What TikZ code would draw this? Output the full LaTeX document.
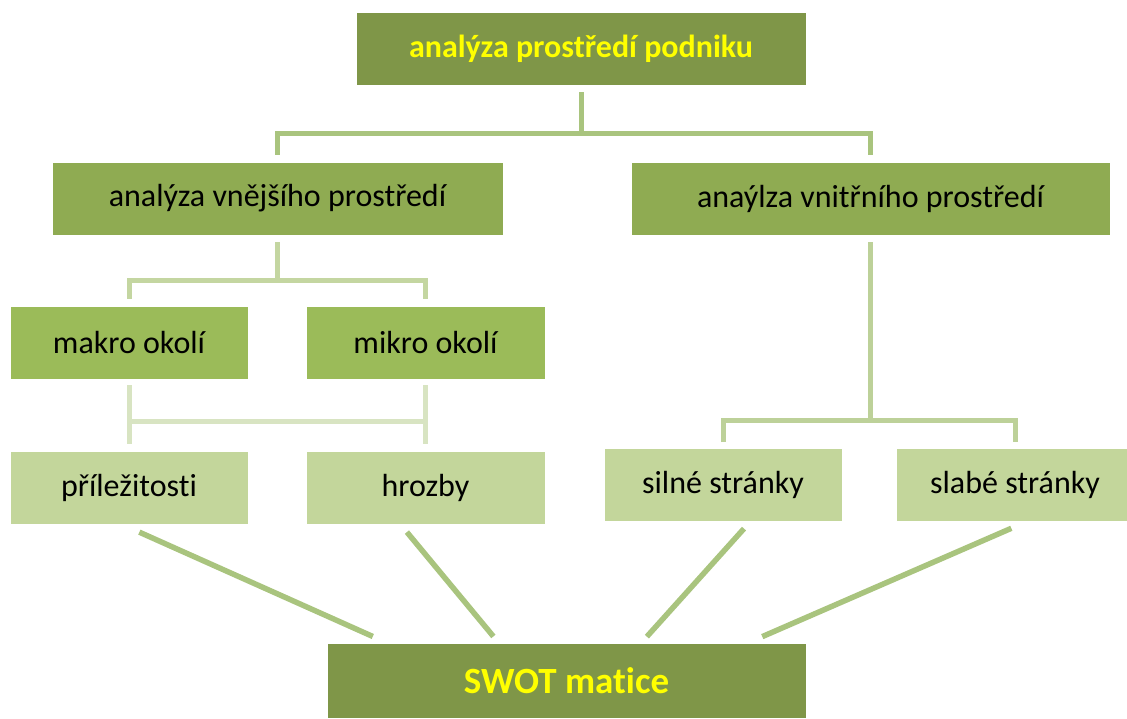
\documentclass[tikz,border=0pt]{standalone}
\usepackage{fontspec}
\setmainfont{Carlito}[Ligatures=NoCommon]
\usetikzlibrary{positioning}

\definecolor{olivetop}{HTML}{7F9648}
\definecolor{olivetwo}{HTML}{8FAB52}
\definecolor{olivethree}{HTML}{9BBB59}
\definecolor{olivefour}{HTML}{C3D69B}
\definecolor{linkA}{HTML}{A9C47E}
\definecolor{linkB}{HTML}{C4D6A1}
\definecolor{linkC}{HTML}{D8E4C2}
\definecolor{linkD}{HTML}{BDD199}
\definecolor{headtext}{HTML}{FFFF00}

\begin{document}
\begin{tikzpicture}[x=1pt,y=-1pt]

\tikzset{
  % plain boxes of the chart
  box/.style={rectangle, inner sep=0pt, minimum height=73pt, draw=white,
    line width=0.8pt, text=black, font=\fontsize{32}{36}\selectfont},
  headbox/.style={box, fill=olivetop, text=headtext,
    font=\fontsize{32}{36}\selectfont\bfseries},
  % straight and elbow connectors
  link/.style={line width=5pt, draw=#1},
  diag/.style={line width=5.5pt, draw=linkA},
}

\useasboundingbox (0,0) rectangle (1127,718);

\node[headbox, minimum width=450pt] (top) at (581,48.5) {analýza prostředí podniku};

\node[box, fill=olivetwo, minimum width=451pt] (vnej) at (277.5,198.5) {analýza vnějšího prostředí};
\node[box, fill=olivetwo, minimum width=479pt] (vnit) at (870.5,198.5) {anaýlza vnitřního prostředí};

\node[box, fill=olivethree, minimum width=238pt] (makro) at (129,342.5) {makro okolí};
\node[box, fill=olivethree, minimum width=239pt] (mikro) at (425.5,342.5) {mikro okolí};

\node[box, fill=olivefour, minimum width=238pt] (prilez) at (129,487.5) {příležitosti};
\node[box, fill=olivefour, minimum width=239pt] (hrozby) at (425.5,487.5) {hrozby};
\node[box, fill=olivefour, minimum width=238pt] (silne) at (723,485) {silné stránky};
\node[box, fill=olivefour, minimum width=238pt] (slabe) at (1015,485) {slabé stránky};

\node[headbox, minimum width=479pt, minimum height=75pt,
  font=\fontsize{37}{41}\selectfont\bfseries] (swot) at (566.5,680.5) {SWOT matice};

\coordinate (busA) at (581,133);
\coordinate (busB) at (277.5,280);
\coordinate (busC) at (277.5,421);
\coordinate (busD) at (870.5,420);

\draw[link=linkA, shorten <=7pt] (top.south) -- (busA);
\draw[link=linkA, shorten <=7pt, shorten >=7pt] (vnej.north) |- (busA) -| (vnit.north);

\draw[link=linkB, shorten <=7pt] (vnej.south) -- (busB);
\draw[link=linkB, shorten <=7pt, shorten >=7pt] (makro.north) |- (busB) -| (mikro.north);

\draw[link=linkC, shorten <=6pt, shorten >=7pt] (makro.south) -- (prilez.north);
\draw[link=linkC, shorten <=6pt, shorten >=7pt] (mikro.south) -- (hrozby.north);
\draw[link=linkC] (makro.south |- busC) -- (mikro.south |- busC);

\draw[link=linkD, shorten <=7pt] (vnit.south) -- (busD);
\draw[link=linkD, shorten <=6pt, shorten >=6pt] (silne.north) |- (busD) -| (slabe.north);

% lines into the SWOT box
\draw[diag, shorten <=19pt, shorten >=15pt] ([xshift=-7pt]prilez.south) -- ([xshift=-180pt]swot.north);
\draw[diag, shorten <=10pt, shorten >=8pt] ([xshift=-25pt]hrozby.south) -- ([xshift=-68pt]swot.north);
\draw[diag, shorten <=9pt, shorten >=8pt] ([xshift=27pt]silne.south) -- ([xshift=75pt]swot.north);
\draw[diag, shorten <=16pt, shorten >=15pt] ([xshift=11pt]slabe.south) -- ([xshift=182pt]swot.north);

\end{tikzpicture}
\end{document}
